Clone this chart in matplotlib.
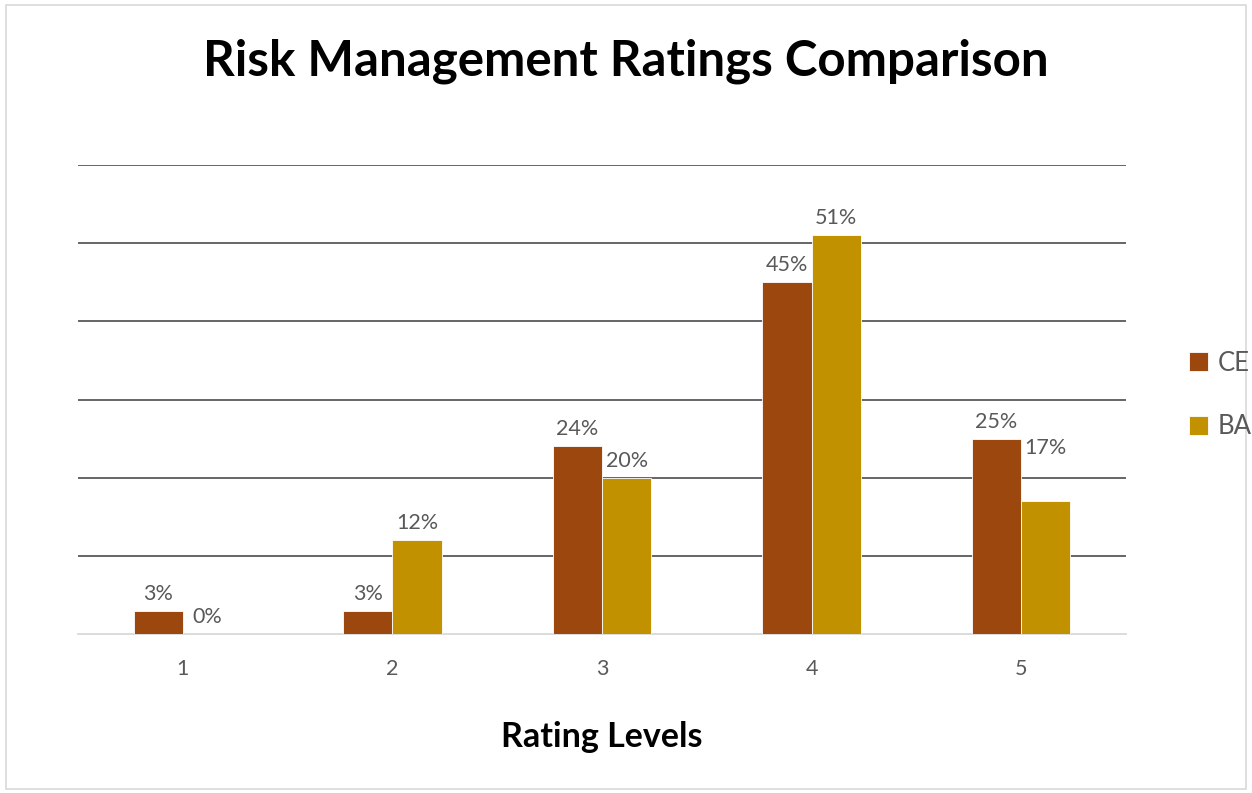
import matplotlib.pyplot as plt
import numpy as np
from matplotlib.patches import Rectangle

categories = ["1", "2", "3", "4", "5"]
ce_values = [3, 3, 24, 45, 25]
ba_values = [0, 12, 20, 51, 17]
series_names = ["CE", "BA"]

ce_color = "#9C470E"
ba_color = "#C19100"
text_color = "#595959"

plt.rcParams["font.family"] = ["Lato", "DejaVu Sans"]

fig = plt.figure(figsize=(12.52, 7.93), dpi=100)
ax = fig.add_axes([78 / 1252, 1 - 634 / 793, (1126 - 78) / 1252, (634 - 165) / 793])

x = np.arange(len(categories))
w = 0.235
bars_ce = ax.bar(x - w / 2, ce_values, w, color=ce_color, edgecolor="white", linewidth=0.6,
                 label=series_names[0], zorder=3)
bars_ba = ax.bar(x + w / 2, ba_values, w, color=ba_color, edgecolor="white", linewidth=0.6,
                 label=series_names[1], zorder=3)

# Excel pushed the "17%" label up to sit beside "25%"
for bars, lifts in ((bars_ce, [5] * 5), (bars_ba, [5, 5, 5, 5, 31])):
    for b, lift in zip(bars, lifts):
        h = b.get_height()
        ax.annotate(f"{h:g}%", (b.get_x() + b.get_width() / 2, h), xytext=(0, lift),
                    textcoords="offset points", ha="center", va="bottom",
                    fontsize=15.5, color=text_color)

ax.set_xlim(-0.5, len(categories) - 0.5)
ax.set_ylim(0, 60)
ax.set_yticks(np.arange(10, 61, 10))
ax.yaxis.grid(True, color="#595959", linewidth=1.3, zorder=0)
ax.tick_params(axis="y", left=False, labelleft=False)
ax.set_xticks(x)
ax.set_xticklabels(categories)
ax.tick_params(axis="x", length=0, labelsize=15.5, labelcolor=text_color, pad=18)
for s in ["top", "right", "left"]:
    ax.spines[s].set_visible(False)
ax.spines["bottom"].set_color("#d9d9d9")
ax.spines["bottom"].set_linewidth(1.3)

ax.set_xlabel("Rating Levels", fontsize=24.5, fontweight="bold", labelpad=30)
fig.text(0.5, 1 - 61 / 793, "Risk Management Ratings Comparison", ha="center", va="center",
         fontsize=35.5, fontweight="bold")

leg = fig.legend(handles=[bars_ce, bars_ba], labels=series_names, loc="center left",
                 bbox_to_anchor=(1189 / 1252, 1 - 395 / 793), frameon=False,
                 fontsize=18.5, handlelength=0.75, handleheight=0.75, labelspacing=1.5,
                 handletextpad=0.35, borderpad=0, borderaxespad=0)
for t in leg.get_texts():
    t.set_color(text_color)

fig.patches.append(Rectangle((6 / 1252, 4 / 793), 1240 / 1252, 784 / 793, transform=fig.transFigure,
                             fill=False, edgecolor="#d9d9d9", linewidth=1.2))

fig.savefig("out.png", dpi=100)
